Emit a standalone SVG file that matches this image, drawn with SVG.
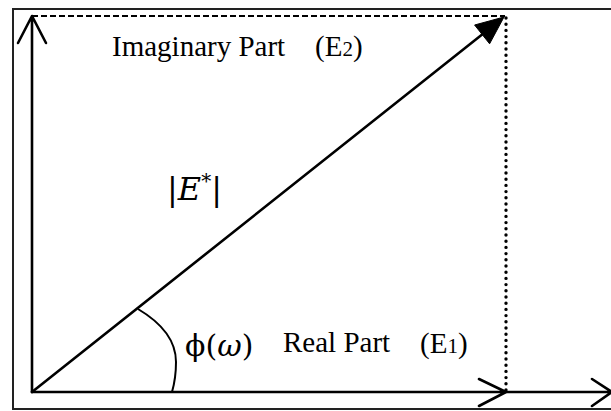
<svg xmlns="http://www.w3.org/2000/svg" width="611" height="411" viewBox="0 0 611 411">
<style>
.frame{fill:none;stroke:#222;stroke-width:2}
.ax{fill:none;stroke:#000;stroke-width:2.6;stroke-linecap:round;stroke-linejoin:round}
.lbl{font-family:"Liberation Serif","Times New Roman",serif;font-size:29px;fill:#000}
.sub{font-size:21px}
.math{font-family:"DejaVu Serif","Liberation Serif",serif;fill:#000}
</style>
<rect width="611" height="411" fill="#fff"/>
<rect class="frame" x="13" y="9" width="610" height="400"/>
<g id="connectors">
  <path class="ax" d="M32,392 V16 M18,43 L32,16 L46,43"/>
  <path d="M32,16 H505" fill="none" stroke="#000" stroke-width="2" stroke-dasharray="6 3"/>
  <path d="M506,18 V390" fill="none" stroke="#000" stroke-width="3.4" stroke-linecap="round" stroke-dasharray="0 6.2"/>
  <path class="ax" d="M32,392 H506 M479,379 L506,392 L479,406"/>
  <path class="ax" d="M506,392 H611 M592,379 L612,392 L592,406"/>
  <path class="ax" d="M32,392 L484,33"/>
  <polygon points="504,17 489.6,43.8 474.6,25" fill="#000" stroke="#000" stroke-width="1" stroke-linejoin="round"/>
  <path d="M138,309 C160,322 176,340 176,362 C176,375 174,385 172,392" fill="none" stroke="#000" stroke-width="2"/>
</g>
<g id="imag-label">
  <text class="lbl" x="112" y="56">Imaginary Part</text>
  <text class="lbl" x="315" y="56">(E<tspan class="sub">2</tspan>)</text>
</g>
<g id="mag-label">
  <text class="math" x="167" y="200" font-size="32">|<tspan font-style="italic">E</tspan><tspan font-size="20" dy="-12">*</tspan><tspan dy="12">|</tspan></text>
</g>
<g id="phase-label">
  <text class="math" x="185" y="356" font-size="30">ϕ(<tspan font-style="italic">ω</tspan>)</text>
</g>
<g id="real-label">
  <text class="lbl" x="283" y="352">Real Part</text>
  <text class="lbl" x="420" y="353">(E<tspan class="sub">1</tspan>)</text>
</g>
</svg>
